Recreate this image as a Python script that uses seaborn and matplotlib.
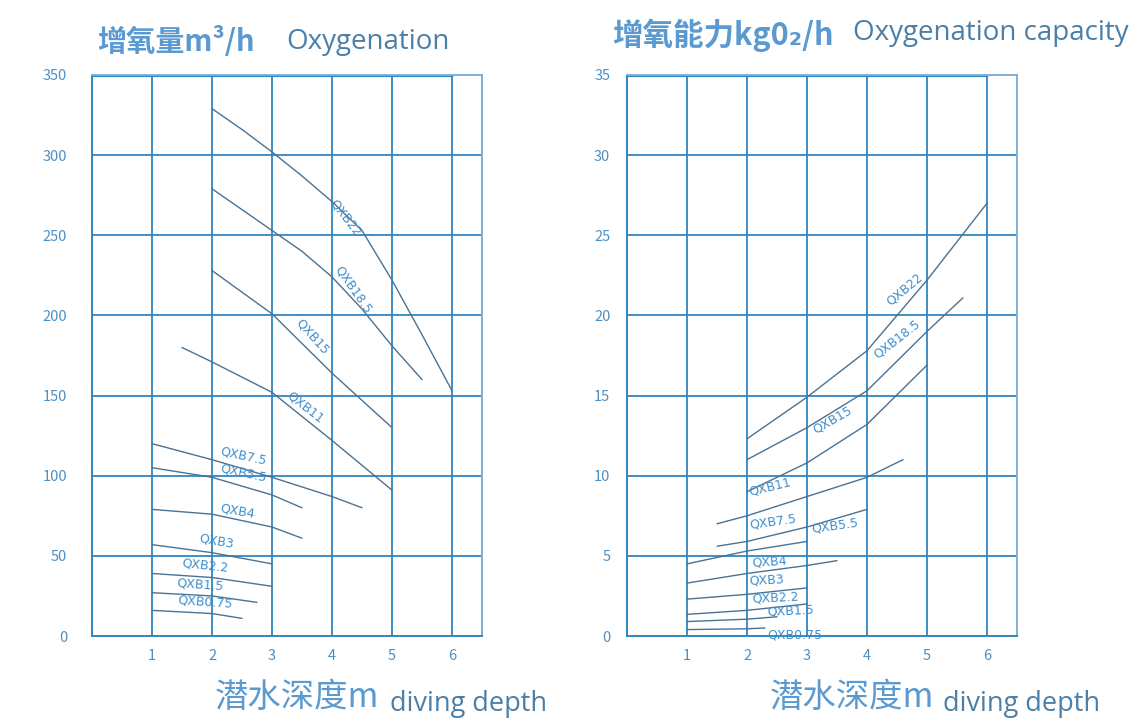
import matplotlib
matplotlib.use("Agg")
import matplotlib.pyplot as plt
import seaborn as sns
import pandas as pd

models = ["QXB22", "QXB18.5", "QXB15", "QXB11", "QXB7.5", "QXB5.5",
          "QXB4", "QXB3", "QXB2.2", "QXB1.5", "QXB0.75"]

# left chart: oxygenation m3/h against diving depth m
oxy_x_22 = [2, 2.5, 3, 3.5, 4, 4.5, 5, 5.5, 6]
oxy_y_22 = [329, 316, 302, 287, 271, 253, 222, 188, 153]
oxy_x_185 = [2, 2.5, 3, 3.5, 4, 4.5, 5, 5.5]
oxy_y_185 = [279, 266, 253, 240, 224, 204, 181, 160]
oxy_x_15 = [2, 3, 4, 5]
oxy_y_15 = [228, 201, 164, 130]
oxy_x_11 = [1.5, 2, 3, 4, 5]
oxy_y_11 = [180, 171, 152, 122, 91]
oxy_x_75 = [1, 2, 3, 4, 4.5]
oxy_y_75 = [120, 110, 99, 87, 80]
oxy_x_55 = [1, 2, 3, 3.5]
oxy_y_55 = [105, 99, 88, 80]
oxy_x_4 = [1, 2, 3, 3.5]
oxy_y_4 = [79, 76, 68, 61]
oxy_x_3 = [1, 2, 3]
oxy_y_3 = [57, 52, 45]
oxy_x_22b = [1, 2, 3]
oxy_y_22b = [39, 36.5, 31]
oxy_x_15b = [1, 2, 2.75]
oxy_y_15b = [27, 25, 21]
oxy_x_075 = [1, 2, 2.5]
oxy_y_075 = [16, 14, 11]

# right chart: oxygenation capacity kgO2/h against diving depth m
cap_x_22 = [2, 3, 4, 5, 6]
cap_y_22 = [12.3, 14.9, 17.8, 22.2, 27.0]
cap_x_185 = [2, 3, 4, 5, 5.6]
cap_y_185 = [11.0, 13.0, 15.3, 19.0, 21.1]
cap_x_15 = [2, 3, 4, 5]
cap_y_15 = [9.0, 10.8, 13.2, 16.9]
cap_x_11 = [1.5, 2, 3, 4, 4.6]
cap_y_11 = [7.0, 7.5, 8.7, 9.9, 11.0]
cap_x_75 = [1.5, 2, 3, 4]
cap_y_75 = [5.6, 5.9, 6.8, 7.9]
cap_x_55 = [1, 2, 3]
cap_y_55 = [4.5, 5.3, 5.9]
cap_x_4 = [1, 2, 3, 3.5]
cap_y_4 = [3.3, 3.9, 4.4, 4.7]
cap_x_3 = [1, 2, 3]
cap_y_3 = [2.3, 2.6, 3.0]
cap_x_22b = [1, 2, 3]
cap_y_22b = [1.35, 1.6, 2.0]
cap_x_15b = [1, 2, 2.5]
cap_y_15b = [0.9, 1.05, 1.2]
cap_x_075 = [1, 2, 2.3]
cap_y_075 = [0.4, 0.45, 0.5]

oxy_ticks = [0, 50, 100, 150, 200, 250, 300, 350]
cap_ticks = [0, 5, 10, 15, 20, 25, 30, 35]
depth_ticks = [1, 2, 3, 4, 5, 6]

oxy_series = [(oxy_x_22, oxy_y_22), (oxy_x_185, oxy_y_185), (oxy_x_15, oxy_y_15),
              (oxy_x_11, oxy_y_11), (oxy_x_75, oxy_y_75), (oxy_x_55, oxy_y_55),
              (oxy_x_4, oxy_y_4), (oxy_x_3, oxy_y_3), (oxy_x_22b, oxy_y_22b),
              (oxy_x_15b, oxy_y_15b), (oxy_x_075, oxy_y_075)]
cap_series = [(cap_x_22, cap_y_22), (cap_x_185, cap_y_185), (cap_x_15, cap_y_15),
              (cap_x_11, cap_y_11), (cap_x_75, cap_y_75), (cap_x_55, cap_y_55),
              (cap_x_4, cap_y_4), (cap_x_3, cap_y_3), (cap_x_22b, cap_y_22b),
              (cap_x_15b, cap_y_15b), (cap_x_075, cap_y_075)]

# where the model names sit on each chart (x, y, rotation)
oxy_label_pos = [(4.22, 261, -52), (4.35, 216, -55), (3.67, 187, -48), (3.55, 143, -38),
                 (2.52, 112, -12), (2.52, 102, -12), (2.43, 78, -10), (2.07, 59, -10),
                 (1.88, 44, -6), (1.8, 32, -4), (1.88, 21, -4)]
cap_label_pos = [(4.63, 21.6, 40), (4.5, 18.5, 38), (3.43, 13.5, 30), (2.38, 9.3, 14),
                 (2.43, 7.1, 8), (3.47, 6.9, 8), (2.38, 4.6, 4), (2.32, 3.5, 3),
                 (2.47, 2.4, 3), (2.72, 1.55, 3), (2.8, 0.08, 0)]


def to_frame(series):
    rows = []
    for name, (xs, ys) in zip(models, series):
        for x, y in zip(xs, ys):
            rows.append({"model": name, "depth": x, "value": y})
    return pd.DataFrame(rows)


sns.set_theme(style="white")
plt.rcParams["font.family"] = ["Noto Sans CJK SC", "DejaVu Sans"]

grid_c = "#2f86c0"
curve_c = "#4a7294"
text_c = "#3f8fcc"
tick_c = "#4a90c6"

fig = plt.figure(figsize=(11.33, 7.28), dpi=100)
ax1 = fig.add_axes([92 / 1133, 1 - 636 / 728, 390 / 1133, 561 / 728])
ax2 = fig.add_axes([627 / 1133, 1 - 636 / 728, 390 / 1133, 561 / 728])


def draw(ax, series, ticks, label_pos, pad):
    df = to_frame(series)
    top = ticks[-1]
    ax.set_xlim(0, 6.5)
    ax.set_ylim(0, top)
    ax.set_yticks(ticks)
    ax.set_xticks(depth_ticks)
    for t in ticks[1:-1]:
        ax.axhline(t, color=grid_c, lw=1.3, zorder=1)
    for t in depth_ticks:
        ax.axvline(t, color=grid_c, lw=1.3, zorder=1)
    # heavier top rule that stops at depth 6
    ax.axhline(top, xmin=0, xmax=6 / 6.5, color=grid_c, lw=3, zorder=2)
    sns.lineplot(data=df, x="depth", y="value", units="model", estimator=None,
                 color=curve_c, lw=1.0, sort=False, ax=ax, zorder=3)
    for name, (lx, ly, rot) in zip(models, label_pos):
        ax.text(lx, ly, name, color=text_c, fontsize=9, rotation=rot,
                ha="center", va="center", family=["DejaVu Sans"], zorder=4)
    for s in ax.spines.values():
        s.set_color(grid_c)
        s.set_linewidth(1.4)
    ax.spines["right"].set_color("#7fb0d4")
    ax.spines["top"].set_color("#7fb0d4")
    ax.set_xlabel("")
    ax.set_ylabel("")
    ax.tick_params(axis="both", length=0, colors=tick_c, labelsize=10.5)
    ax.tick_params(axis="y", pad=pad)
    ax.tick_params(axis="x", pad=9)


draw(ax1, oxy_series, oxy_ticks, oxy_label_pos, 18)
draw(ax2, cap_series, cap_ticks, cap_label_pos, 12)

# titles
fig.text(97 / 1133, 1 - 42 / 728, "增氧量m³/h", color="#5a9ad0", fontsize=21,
         weight="bold", va="center", ha="left")
fig.text(286 / 1133, 1 - 42 / 728, "Oxygenation", color="#4a7fa8", fontsize=20,
         family=["Open Sans"], va="center", ha="left")
fig.text(612 / 1133, 1 - 35 / 728, "增氧能力kg0₂/h", color="#5a9ad0", fontsize=22,
         weight="bold", va="center", ha="left")
fig.text(853 / 1133, 1 - 33 / 728, "Oxygenation capacity", color="#4a7fa8", fontsize=20,
         family=["Open Sans"], va="center", ha="left")

# axis names under the charts
fig.text(215 / 1133, 1 - 697 / 728, "潜水深度m", color="#5a9ad0", fontsize=24,
         va="center", ha="left")
fig.text(390 / 1133, 1 - 704 / 728, "diving depth", color="#4a7fa8", fontsize=19.5,
         family=["Open Sans"], va="center", ha="left")
fig.text(770 / 1133, 1 - 697 / 728, "潜水深度m", color="#5a9ad0", fontsize=24,
         va="center", ha="left")
fig.text(943 / 1133, 1 - 704 / 728, "diving depth", color="#4a7fa8", fontsize=19.5,
         family=["Open Sans"], va="center", ha="left")

fig.savefig("out.png", dpi=100, facecolor="white")
